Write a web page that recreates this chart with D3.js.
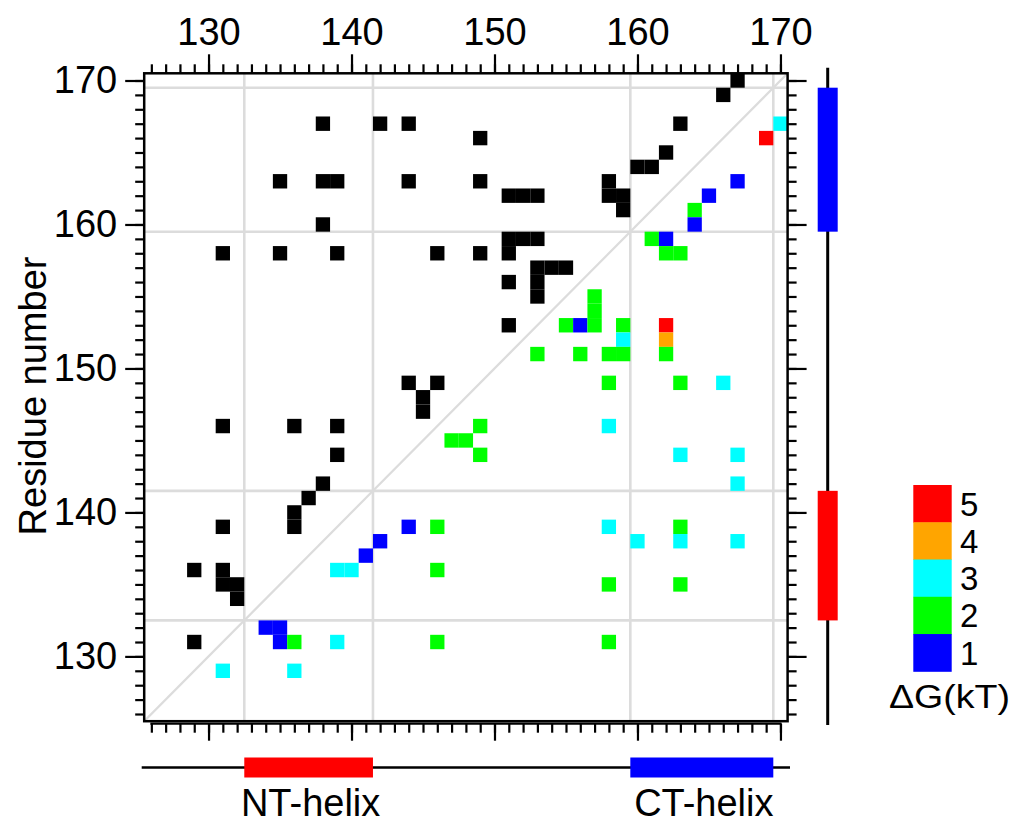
<!DOCTYPE html>
<html>
<head>
<meta charset="utf-8">
<script src="https://cdn.jsdelivr.net/npm/d3@7"></script>
<style>
body { margin: 0; background: #fff; }
text { font-family: "Liberation Sans", Arial, sans-serif; fill: #000; }
</style>
</head>
<body>
<div id="chart"></div>
<script>
// residue ranges and ticks
const residueDomain = [125.5, 170.5];
const majorTicks = [130, 140, 150, 160, 170];
const minorTicks = d3.range(126, 171);
const gridLines = [132.5, 141.5, 159.5, 169.5];

// helix segments
const helixNames = ["NT-helix", "CT-helix"];
const helixStart = [132.5, 159.5];
const helixEnd = [141.5, 169.5];
const helixColors = ["#ff0000", "#0000ff"];

// dG colour key
const dGLevels = [5, 4, 3, 2, 1];
const dGColors = ["#ff0000", "#ffa500", "#00ffff", "#00ff00", "#0000ff"];

// contacts above the diagonal (black): [residue i, residue j]
const upperContacts = [
  [167,170],[166,169],
  [138,167],[142,167],[144,167],[163,167],
  [149,166],[162,165],[160,164],[161,164],
  [135,163],[138,163],[139,163],[144,163],[149,163],[158,163],
  [151,162],[152,162],[153,162],[158,162],[159,162],
  [159,161],[138,160],
  [151,159],[152,159],[153,159],
  [131,158],[135,158],[139,158],[146,158],[149,158],[151,158],
  [153,157],[154,157],[155,157],
  [151,156],[153,156],[153,155],[151,153],
  [144,149],[146,149],[145,148],[145,147],
  [131,146],[136,146],[139,146],
  [139,144],[138,142],[137,141],[136,140],
  [131,139],[136,139],
  [129,136],[131,136],[131,135],[132,135],[132,134],
  [129,131]
];

// contacts below the diagonal: [residue i, residue j, dG (kT)]
const lowerContacts = [
  [170,167,3],[169,166,5],
  [167,163,1],[165,162,1],[164,161,2],[164,160,1],
  [161,159,2],[162,159,1],[162,158,2],[163,158,2],
  [157,155,2],[157,154,2],
  [155,153,2],[156,153,1],[157,153,2],[159,153,2],[162,153,5],
  [159,152,3],[162,152,4],
  [153,151,2],[156,151,2],[158,151,2],[159,151,2],[162,151,2],
  [158,149,2],[163,149,2],[166,149,3],
  [149,146,2],[158,146,3],
  [147,145,2],[148,145,2],
  [149,144,2],[163,144,3],[167,144,3],
  [167,142,3],
  [144,139,1],[146,139,2],[158,139,3],[163,139,2],
  [142,138,1],[160,138,3],[163,138,3],[167,138,3],
  [141,137,1],
  [139,136,3],[140,136,3],[146,136,2],
  [158,135,2],[163,135,2],
  [134,132,1],[135,132,1],
  [135,131,1],[136,131,2],[139,131,3],[146,131,2],[158,131,2],
  [131,129,3],[136,129,3]
];

const W = 1015, H = 825;
const svg = d3.select("#chart").append("svg")
  .attr("width", W).attr("height", H);

const x = d3.scaleLinear().domain(residueDomain).range([144.2, 787.6]);
const y = d3.scaleLinear().domain(residueDomain).range([721.2, 73.3]);
const color = d3.scaleOrdinal().domain(dGLevels).range(dGColors);

const plotLeft = x(residueDomain[0]), plotRight = x(residueDomain[1]);
const plotTop = y(residueDomain[1]), plotBottom = y(residueDomain[0]);

svg.append("defs").append("clipPath").attr("id", "plot-clip")
  .append("rect")
  .attr("x", plotLeft).attr("y", plotTop)
  .attr("width", plotRight - plotLeft).attr("height", plotBottom - plotTop);

const plot = svg.append("g").attr("clip-path", "url(#plot-clip)");

// grid lines at helix boundaries
plot.selectAll(".vgrid").data(gridLines).join("line")
  .attr("x1", d => x(d)).attr("x2", d => x(d))
  .attr("y1", plotTop).attr("y2", plotBottom)
  .attr("stroke", "#dcdcdc").attr("stroke-width", 2.6);
plot.selectAll(".hgrid").data(gridLines).join("line")
  .attr("y1", d => y(d)).attr("y2", d => y(d))
  .attr("x1", plotLeft).attr("x2", plotRight)
  .attr("stroke", "#dcdcdc").attr("stroke-width", 2.6);

// diagonal
plot.append("line")
  .attr("x1", x(residueDomain[0])).attr("y1", y(residueDomain[0]))
  .attr("x2", x(residueDomain[1])).attr("y2", y(residueDomain[1]))
  .attr("stroke", "#dcdcdc").attr("stroke-width", 2.2);

// contact cells
plot.selectAll(".upper").data(upperContacts).join("rect")
  .attr("x", d => x(d[0] - 0.5))
  .attr("y", d => y(d[1] + 0.5))
  .attr("width", d => x(d[0] + 0.5) - x(d[0] - 0.5))
  .attr("height", d => y(d[1] - 0.5) - y(d[1] + 0.5))
  .attr("fill", "#000");

plot.selectAll(".lower").data(lowerContacts).join("rect")
  .attr("x", d => x(d[0] - 0.5))
  .attr("y", d => y(d[1] + 0.5))
  .attr("width", d => x(d[0] + 0.5) - x(d[0] - 0.5))
  .attr("height", d => y(d[1] - 0.5) - y(d[1] + 0.5))
  .attr("fill", d => color(d[2]));

// frame
svg.append("rect")
  .attr("x", plotLeft).attr("y", plotTop)
  .attr("width", plotRight - plotLeft).attr("height", plotBottom - plotTop)
  .attr("fill", "none").attr("stroke", "#000").attr("stroke-width", 2.5);

// axes
function styleAxis(g) {
  g.select(".domain").remove();
  g.selectAll(".tick line").attr("stroke", "#000").attr("stroke-width", 2.2);
  g.selectAll(".tick text").attr("font-size", 38).attr("font-family", null).attr("fill", "#000");
}

const minor = 9, major = 19;

svg.append("g").attr("transform", `translate(0,${plotTop})`)
  .call(d3.axisTop(x).tickValues(minorTicks).tickSize(minor).tickFormat(""))
  .call(styleAxis);
svg.append("g").attr("transform", `translate(0,${plotTop})`)
  .call(d3.axisTop(x).tickValues(majorTicks).tickSize(major).tickPadding(9).tickFormat(d3.format("d")))
  .call(styleAxis);

svg.append("g").attr("transform", `translate(${plotLeft},0)`)
  .call(d3.axisLeft(y).tickValues(minorTicks).tickSize(minor).tickFormat(""))
  .call(styleAxis);
svg.append("g").attr("transform", `translate(${plotLeft},0)`)
  .call(d3.axisLeft(y).tickValues(majorTicks).tickSize(major).tickPadding(8).tickFormat(d3.format("d")))
  .call(styleAxis);

svg.append("g").attr("transform", `translate(${plotRight},0)`)
  .call(d3.axisRight(y).tickValues(minorTicks).tickSize(minor).tickFormat(""))
  .call(styleAxis);
svg.append("g").attr("transform", `translate(${plotRight},0)`)
  .call(d3.axisRight(y).tickValues(majorTicks).tickSize(major).tickFormat(""))
  .call(styleAxis);

// bottom axis sits a little below the frame
const bottomAxisY = plotBottom + 2.5;
svg.append("line")
  .attr("x1", x(minorTicks[0]) - 1).attr("x2", x(minorTicks[minorTicks.length - 1]) + 1)
  .attr("y1", bottomAxisY).attr("y2", bottomAxisY)
  .attr("stroke", "#000").attr("stroke-width", 2.2);
svg.append("g").attr("transform", `translate(0,${bottomAxisY})`)
  .call(d3.axisBottom(x).tickValues(minorTicks).tickSize(minor).tickFormat(""))
  .call(styleAxis);
svg.append("g").attr("transform", `translate(0,${bottomAxisY})`)
  .call(d3.axisBottom(x).tickValues(majorTicks).tickSize(major - 2).tickFormat(""))
  .call(styleAxis);

// y label
svg.append("text")
  .attr("transform", "translate(46,396) rotate(-90)")
  .attr("text-anchor", "middle")
  .attr("font-size", 38)
  .text("Residue number");

// helix bar below
const hBarY = 767.5, barW = 20;
svg.append("line")
  .attr("x1", 141.7).attr("x2", 790)
  .attr("y1", hBarY).attr("y2", hBarY)
  .attr("stroke", "#000").attr("stroke-width", 2.5);
svg.selectAll(".hbar").data(helixNames).join("rect")
  .attr("x", (d, i) => x(helixStart[i]))
  .attr("width", (d, i) => x(helixEnd[i]) - x(helixStart[i]))
  .attr("y", hBarY - barW / 2).attr("height", barW)
  .attr("fill", (d, i) => helixColors[i]);
svg.selectAll(".hlabel").data(helixNames).join("text")
  .attr("x", (d, i) => (x(helixStart[i]) + x(helixEnd[i])) / 2 + 2)
  .attr("y", 816)
  .attr("text-anchor", "middle")
  .attr("font-size", 38)
  .text(d => d);

// helix bar at right
const vBarX = 827.7;
svg.append("line")
  .attr("x1", vBarX).attr("x2", vBarX)
  .attr("y1", 67.7).attr("y2", 725)
  .attr("stroke", "#000").attr("stroke-width", 3);
svg.selectAll(".vbar").data(helixNames).join("rect")
  .attr("x", vBarX - barW / 2).attr("width", barW)
  .attr("y", (d, i) => y(helixEnd[i]))
  .attr("height", (d, i) => y(helixStart[i]) - y(helixEnd[i]))
  .attr("fill", (d, i) => helixColors[i]);

// dG legend
const legY = d3.scaleBand().domain(dGLevels).range([485, 671.3]);
const legend = svg.append("g");
legend.selectAll("rect").data(dGLevels).join("rect")
  .attr("x", 913.3).attr("width", 38.4)
  .attr("y", d => legY(d)).attr("height", legY.bandwidth() + 0.5)
  .attr("fill", d => color(d));
legend.selectAll("text").data(dGLevels).join("text")
  .attr("x", 960)
  .attr("y", d => legY(d) + legY.bandwidth() / 2)
  .attr("dy", "0.36em")
  .attr("font-size", 33)
  .text(d => d);
legend.append("text")
  .attr("x", 889).attr("y", 708)
  .attr("font-size", 33)
  .attr("textLength", 121)
  .attr("lengthAdjust", "spacingAndGlyphs")
  .text("ΔG(kT)");
</script>
</body>
</html>
